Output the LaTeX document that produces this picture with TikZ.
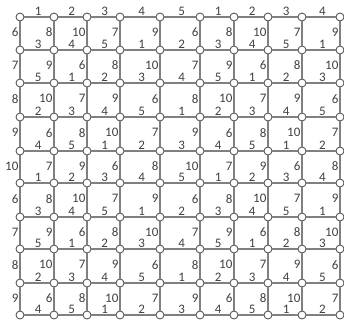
\documentclass[tikz,border=0pt]{standalone}
\usepackage{fontspec}
\setmainfont{Carlito}
\usetikzlibrary{calc}

\tikzset{
  vtx/.style={circle, draw=black!65, fill=white, inner sep=0pt, minimum size=8pt, line width=0.9pt},
  gridline/.style={draw=black!50, line width=1.2pt},
  lbl/.style={font=\fontsize{13}{14}\selectfont, inner sep=1pt, text=black!75}
}

\begin{document}
\begin{tikzpicture}[x=1pt, y=-1pt]
\useasboundingbox (0,0) rectangle (344,321);
% vertices of the grid
\foreach \x [count=\c from 0] in {20,54,87,120,160,200,234,268,302,340}
  \foreach \y [count=\r from 0] in {17,50,83,117,151,183,217,249,283,315}
    \node[vtx] (n-\c-\r) at (\x,\y) {};
% horizontal edges, labels 1-5
\foreach \r in {0,...,9}
  \foreach \c in {0,...,8} {
    \pgfmathtruncatemacro{\d}{\c+1}
    \pgfmathtruncatemacro{\k}{mod(2*\r+\c,5)+1}
    \draw[gridline] (n-\c-\r) -- node[lbl, above, pos=0.55] (h-\c-\r) {\k} (n-\d-\r);
  }
% vertical edges, labels 6-10
\foreach \c in {0,...,9}
  \foreach \r in {0,...,8} {
    \pgfmathtruncatemacro{\s}{\r+1}
    \pgfmathtruncatemacro{\k}{mod(2*\c+\r,5)+6}
    \draw[gridline] (n-\c-\r) -- node[lbl, left, pos=0.45] (v-\c-\r) {\k} (n-\c-\s);
  }
\end{tikzpicture}
\end{document}
